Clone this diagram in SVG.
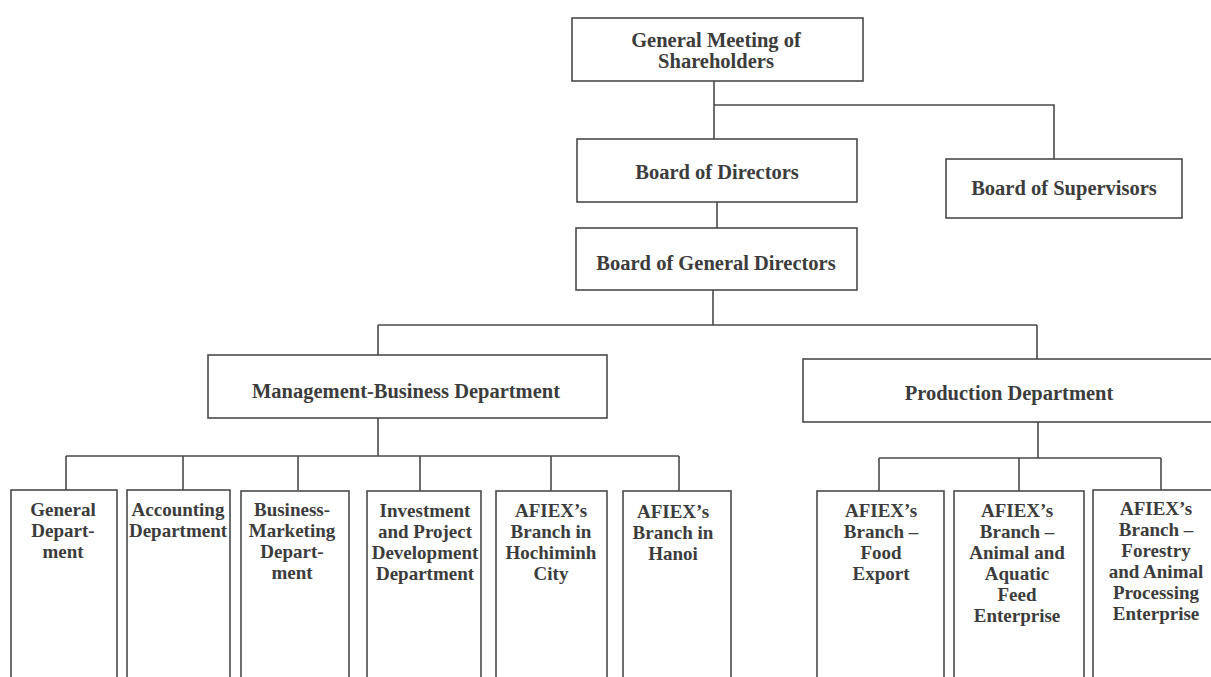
<svg xmlns="http://www.w3.org/2000/svg" width="1211" height="677" viewBox="0 0 1211 677">
<style>
.box{fill:#ffffff;stroke:#4a4a4a;stroke-width:1.6}
.ln{fill:none;stroke:#4a4a4a;stroke-width:1.6}
.t{font-family:"Liberation Serif","Times New Roman",serif;font-weight:bold;fill:#3c3c3c;text-anchor:middle}
.big{font-size:20.5px}
.sm{font-size:19px}
</style>
<rect width="1211" height="677" fill="#ffffff"/>
<g id="connectors">
<path class="ln" d="M714 81V139 M714 105H1054V159"/>
<path class="ln" d="M717 202V228"/>
<path class="ln" d="M713 290V325 M378 325H1037 M378 325V355 M1037 325V359"/>
<path class="ln" d="M378 418V456 M66 456H679 M66 456V490 M183 456V490 M298 456V490 M420 456V491 M551 456V491 M679 456V491"/>
<path class="ln" d="M1038 422V458 M879 458H1161 M879 458V491 M1019 458V491 M1161 458V490"/>
</g>
<g id="gm"><rect class="box" x="572" y="18" width="291" height="63"/>
<text class="t big" x="716" y="47">General Meeting of</text><text class="t big" x="716" y="68">Shareholders</text></g>
<g id="bod"><rect class="box" x="577" y="139" width="280" height="63"/>
<text class="t big" x="717" y="179">Board of Directors</text></g>
<g id="bos"><rect class="box" x="946" y="159" width="236" height="59"/>
<text class="t big" x="1064" y="195">Board of Supervisors</text></g>
<g id="bgd"><rect class="box" x="576" y="228" width="281" height="62"/>
<text class="t big" x="716" y="270">Board of General Directors</text></g>
<g id="mbd"><rect class="box" x="208" y="355" width="399" height="63"/>
<text class="t big" x="406" y="398">Management-Business Department</text></g>
<g id="pd"><rect class="box" x="803" y="359" width="420" height="63"/>
<text class="t big" x="1009" y="400">Production Department</text></g>
<g id="gen"><rect class="box" x="11" y="490" width="106" height="200"/>
<text class="t sm" x="63" y="516">General</text><text class="t sm" x="63" y="537">Depart-</text><text class="t sm" x="63" y="558">ment</text></g>
<g id="acc"><rect class="box" x="127" y="490" width="103" height="200"/>
<text class="t sm" x="178" y="516">Accounting</text><text class="t sm" x="178" y="537">Department</text></g>
<g id="bm"><rect class="box" x="241" y="491" width="108" height="200"/>
<text class="t sm" x="292" y="516">Business-</text><text class="t sm" x="292" y="537">Marketing</text><text class="t sm" x="292" y="558">Depart-</text><text class="t sm" x="292" y="579">ment</text></g>
<g id="inv"><rect class="box" x="367" y="491" width="114" height="200"/>
<text class="t sm" x="425" y="517">Investment</text><text class="t sm" x="425" y="538">and Project</text><text class="t sm" x="425" y="559">Development</text><text class="t sm" x="425" y="580">Department</text></g>
<g id="hcm"><rect class="box" x="496" y="491" width="111" height="200"/>
<text class="t sm" x="551" y="517">AFIEX’s</text><text class="t sm" x="551" y="538">Branch in</text><text class="t sm" x="551" y="559">Hochiminh</text><text class="t sm" x="551" y="580">City</text></g>
<g id="hn"><rect class="box" x="623" y="491" width="108" height="200"/>
<text class="t sm" x="673" y="518">AFIEX’s</text><text class="t sm" x="673" y="539">Branch in</text><text class="t sm" x="673" y="560">Hanoi</text></g>
<g id="food"><rect class="box" x="817" y="491" width="127" height="200"/>
<text class="t sm" x="881" y="517">AFIEX’s</text><text class="t sm" x="881" y="538">Branch –</text><text class="t sm" x="881" y="559">Food</text><text class="t sm" x="881" y="580">Export</text></g>
<g id="feed"><rect class="box" x="954" y="491" width="130" height="200"/>
<text class="t sm" x="1017" y="517">AFIEX’s</text><text class="t sm" x="1017" y="538">Branch –</text><text class="t sm" x="1017" y="559">Animal and</text><text class="t sm" x="1017" y="580">Aquatic</text><text class="t sm" x="1017" y="601">Feed</text><text class="t sm" x="1017" y="622">Enterprise</text></g>
<g id="forest"><rect class="box" x="1093" y="490" width="130" height="200"/>
<text class="t sm" x="1156" y="515">AFIEX’s</text><text class="t sm" x="1156" y="536">Branch –</text><text class="t sm" x="1156" y="557">Forestry</text><text class="t sm" x="1156" y="578">and Animal</text><text class="t sm" x="1156" y="599">Processing</text><text class="t sm" x="1156" y="620">Enterprise</text></g>
</svg>
